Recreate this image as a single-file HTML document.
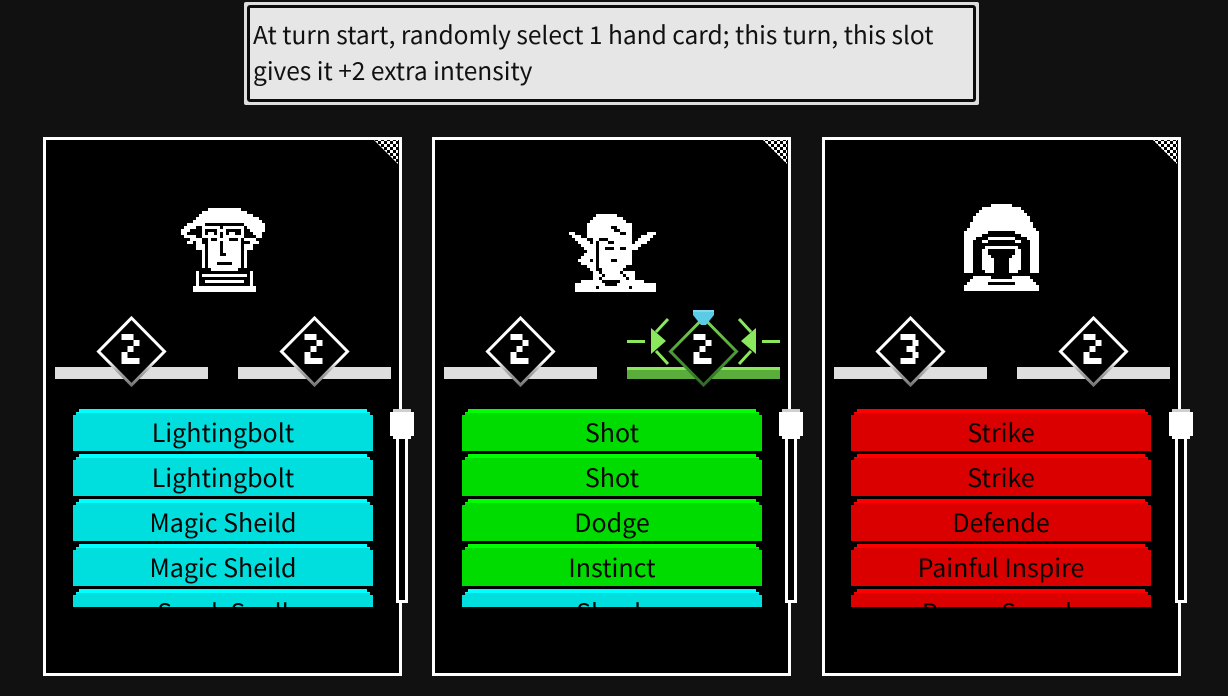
<!DOCTYPE html>
<html>
<head>
<meta charset="utf-8">
<style>
  html,body{margin:0;padding:0;}
  body{width:1228px;height:696px;background:#111111;position:relative;overflow:hidden;
       font-family:"Noto Sans CJK JP","Liberation Sans",sans-serif;}
  .tip{position:absolute;left:244px;top:2px;width:735px;height:103px;box-sizing:border-box;
       background:#dedede;border-radius:2px;}
  .tip .in{position:absolute;left:3px;top:3px;right:3px;bottom:3px;border:3px solid #0c0c0c;
       background:#e6e6e6;border-radius:3px;}
  .tiptext{position:absolute;left:253px;top:17px;width:720px;font-size:24.5px;line-height:36px;color:#111;
       white-space:nowrap;}
  .card{position:absolute;top:137px;width:359px;height:539px;box-sizing:border-box;border:3px solid #fff;background:#000;}
  .list{position:absolute;top:409px;width:300px;height:198px;overflow:hidden;}
  .btn{position:absolute;left:0;width:300px;height:42px;overflow:hidden;
       clip-path:polygon(6px 0,294px 0,294px 3px,297px 3px,297px 6px,300px 6px,300px 42px,0 42px,0 6px,3px 6px,3px 3px,6px 3px);
       text-align:center;font-size:25px;line-height:46px;color:#050505;white-space:nowrap;}
  .c{background:linear-gradient(#00ffff 0,#00ffff 4px,#00dede 4px);}
  .g{background:linear-gradient(#00ff00 0,#00ff00 4px,#00dc00 4px);}
  .r{background:linear-gradient(#ff0000 0,#ff0000 4px,#da0000 4px);}
  svg.ov{position:absolute;left:0;top:0;}
</style>
</head>
<body>

<div class="tip"><div class="in"></div></div>
<div class="tiptext">At turn start, randomly select 1 hand card; this turn, this slot<br>gives it +2 extra intensity</div>

<div class="card" style="left:43px"></div>
<div class="card" style="left:432px"></div>
<div class="card" style="left:822px"></div>

<svg class="ov" width="1228" height="696" viewBox="0 0 1228 696" xmlns="http://www.w3.org/2000/svg">
  <defs>
    <pattern id="chk" width="6" height="6" patternUnits="userSpaceOnUse">
      <rect x="0" y="0" width="3" height="3" fill="#fff"/>
      <rect x="3" y="3" width="3" height="3" fill="#fff"/>
    </pattern>
    <linearGradient id="wd" gradientUnits="userSpaceOnUse" x1="0" y1="316" x2="0" y2="387">
      <stop offset="0" stop-color="#ffffff"/>
      <stop offset="0.64" stop-color="#ffffff"/>
      <stop offset="0.76" stop-color="#b0b0b0"/>
      <stop offset="1" stop-color="#707070"/>
    </linearGradient>
    <linearGradient id="gd" gradientUnits="userSpaceOnUse" x1="0" y1="316" x2="0" y2="387">
      <stop offset="0" stop-color="#86e45a"/>
      <stop offset="0.5" stop-color="#4f9e38"/>
      <stop offset="1" stop-color="#2c6a22"/>
    </linearGradient>
  </defs>

  <polygon points="374,140 398,140 398,164" fill="url(#chk)"/>
  <polygon points="763,140 787,140 787,164" fill="url(#chk)"/>
  <polygon points="1153,140 1177,140 1177,164" fill="url(#chk)"/>

  <g transform="translate(178 208) scale(3)" shape-rendering="crispEdges">
    <g fill="#fff">
      <rect x="10" y="0" width="11" height="1"/>
      <rect x="8" y="1" width="15" height="1"/>
      <rect x="7" y="2" width="18" height="1"/>
      <rect x="6" y="3" width="21" height="1"/>
      <rect x="5" y="4" width="23" height="1"/>
      <rect x="3" y="5" width="6" height="1"/>
      <rect x="2" y="6" width="4" height="1"/>
      <rect x="1" y="7" width="3" height="1"/>
      <rect x="1" y="8" width="2" height="1"/>
      <rect x="22" y="5" width="7" height="1"/>
      <rect x="23" y="6" width="6" height="1"/>
      <rect x="24" y="7" width="5" height="1"/>
      <rect x="25" y="8" width="3" height="1"/>
      <rect x="26" y="9" width="2" height="1"/>
      <rect x="8" y="6" width="6" height="1"/>
      <rect x="8" y="9" width="6" height="1"/>
      <rect x="8" y="7" width="1" height="2"/>
      <rect x="13" y="7" width="1" height="2"/>
      <rect x="15" y="6" width="7" height="1"/>
      <rect x="15" y="9" width="7" height="1"/>
      <rect x="15" y="7" width="1" height="2"/>
      <rect x="21" y="7" width="1" height="2"/>
      <rect x="14" y="7" width="1" height="1"/>
      <rect x="10" y="8" width="2" height="1"/>
      <rect x="17" y="8" width="2" height="1"/>
      <rect x="2" y="9" width="4" height="1"/>
      <rect x="4" y="10" width="4" height="1"/>
      <rect x="3" y="11" width="2" height="1"/>
      <rect x="6" y="11" width="2" height="3"/>
      <rect x="22" y="10" width="4" height="1"/>
      <rect x="24" y="11" width="3" height="1"/>
      <rect x="23" y="12" width="2" height="2"/>
      <rect x="10" y="10" width="11" height="9"/>
      <rect x="8" y="12" width="1" height="8"/>
      <rect x="22" y="12" width="1" height="8"/>
      <rect x="10" y="19" width="11" height="1"/>
      <rect x="11" y="20" width="9" height="1"/>
      <rect x="8" y="22" width="15" height="1"/>
      <rect x="6" y="21" width="1" height="5"/>
      <rect x="24" y="21" width="1" height="5"/>
      <rect x="9" y="24" width="13" height="1"/>
      <rect x="5" y="26" width="21" height="2"/>
    </g>
    <g fill="#000">
      <rect x="14" y="11" width="1" height="5"/>
      <rect x="15" y="15" width="1" height="1"/>
      <rect x="13" y="18" width="5" height="1"/>
      <rect x="11" y="10" width="2" height="1"/>
      <rect x="17" y="10" width="3" height="1"/>
    </g>
  </g>

  <g transform="translate(569 211) scale(3)" shape-rendering="crispEdges">
    <g fill="#fff">
      <rect x="9" y="1" width="7" height="1"/>
      <rect x="8" y="2" width="10" height="1"/>
      <rect x="7" y="3" width="12" height="1"/>
      <rect x="6" y="4" width="15" height="5"/>
      <rect x="0" y="7" width="2" height="1"/>
      <rect x="1" y="8" width="3" height="1"/>
      <rect x="2" y="9" width="4" height="1"/>
      <rect x="3" y="10" width="4" height="1"/>
      <rect x="4" y="11" width="4" height="1"/>
      <rect x="5" y="12" width="3" height="1"/>
      <rect x="6" y="13" width="2" height="1"/>
      <rect x="26" y="7" width="3" height="1"/>
      <rect x="24" y="8" width="4" height="1"/>
      <rect x="23" y="9" width="4" height="1"/>
      <rect x="22" y="10" width="4" height="1"/>
      <rect x="21" y="11" width="3" height="1"/>
      <rect x="20" y="12" width="3" height="1"/>
      <rect x="8" y="9" width="13" height="9"/>
      <rect x="10" y="18" width="9" height="1"/>
      <rect x="11" y="19" width="7" height="1"/>
      <rect x="5" y="14" width="3" height="1"/>
      <rect x="4" y="15" width="4" height="1"/>
      <rect x="3" y="16" width="4" height="1"/>
      <rect x="4" y="17" width="4" height="1"/>
      <rect x="6" y="18" width="3" height="1"/>
      <rect x="7" y="19" width="2" height="1"/>
      <rect x="8" y="20" width="14" height="3"/>
      <rect x="4" y="23" width="7" height="1"/>
      <rect x="17" y="23" width="8" height="1"/>
      <rect x="2" y="24" width="27" height="3"/>
    </g>
    <g fill="#000">
      <rect x="14" y="5" width="2" height="1"/>
      <rect x="15" y="6" width="2" height="1"/>
      <rect x="17" y="7" width="2" height="1"/>
      <rect x="10" y="9" width="3" height="1"/>
      <rect x="9" y="10" width="1" height="1"/>
      <rect x="13" y="10" width="2" height="1"/>
      <rect x="9" y="11" width="1" height="7"/>
      <rect x="12" y="12" width="3" height="1"/>
      <rect x="17" y="12" width="2" height="1"/>
      <rect x="14" y="16" width="2" height="1"/>
      <rect x="10" y="20" width="1" height="1"/>
      <rect x="11" y="21" width="1" height="1"/>
      <rect x="10" y="22" width="1" height="1"/>
      <rect x="17" y="20" width="1" height="1"/>
      <rect x="18" y="21" width="1" height="1"/>
      <rect x="19" y="22" width="1" height="1"/>
      <rect x="12" y="24" width="4" height="1"/>
      <rect x="9" y="25" width="1" height="1"/>
      <rect x="20" y="25" width="1" height="1"/>
    </g>
  </g>

  <g transform="translate(961 204) scale(3)" shape-rendering="crispEdges">
    <g fill="#fff">
      <rect x="10" y="0" width="7" height="1"/>
      <rect x="7" y="1" width="13" height="1"/>
      <rect x="6" y="2" width="15" height="1"/>
      <rect x="5" y="3" width="17" height="1"/>
      <rect x="4" y="4" width="19" height="2"/>
      <rect x="3" y="6" width="21" height="2"/>
      <rect x="2" y="8" width="23" height="1"/>
      <rect x="1" y="9" width="25" height="14"/>
    </g>
    <g fill="#000">
      <rect x="9" y="9" width="9" height="1"/>
      <rect x="7" y="10" width="13" height="1"/>
      <rect x="5" y="11" width="17" height="1"/>
      <rect x="4" y="12" width="19" height="12"/>
      <rect x="0" y="23" width="27" height="1"/>
    </g>
    <g fill="#fff">
      <rect x="9" y="11" width="9" height="1"/>
      <rect x="7" y="12" width="2" height="1"/>
      <rect x="18" y="12" width="2" height="1"/>
      <rect x="8" y="14" width="11" height="1"/>
      <rect x="7" y="15" width="13" height="7"/>
      <rect x="8" y="22" width="11" height="1"/>
      <rect x="4" y="24" width="6" height="1"/>
      <rect x="17" y="24" width="6" height="1"/>
      <rect x="3" y="25" width="21" height="1"/>
      <rect x="2" y="26" width="7" height="1"/>
      <rect x="18" y="26" width="7" height="1"/>
      <rect x="1" y="27" width="25" height="2"/>
    </g>
    <g fill="#000">
      <rect x="9" y="15" width="9" height="2"/>
      <rect x="10" y="17" width="7" height="1"/>
      <rect x="11" y="18" width="5" height="5"/>
    </g>
  </g>

  <g fill="#dedede">
    <rect x="55" y="367" width="153" height="12"/>
    <rect x="238" y="367" width="153" height="12"/>
    <rect x="444" y="367" width="153" height="12"/>
    <rect x="834" y="367" width="153" height="12"/>
    <rect x="1017" y="367" width="153" height="12"/>
  </g>
  <rect x="627" y="367" width="153" height="12" fill="#5aad3a"/>
  <rect x="627" y="367" width="153" height="3" fill="#8be85c"/>

  <g stroke-width="3" fill="#000">
    <polygon points="131.5,318 164.5,351.5 131.5,385 98.5,351.5" stroke="url(#wd)"/>
    <polygon points="314.5,318 347.5,351.5 314.5,385 281.5,351.5" stroke="url(#wd)"/>
    <polygon points="520.5,318 553.5,351.5 520.5,385 487.5,351.5" stroke="url(#wd)"/>
    <polygon points="703.5,318 736.5,351.5 703.5,385 670.5,351.5" stroke="url(#gd)"/>
    <polygon points="910.5,318 943.5,351.5 910.5,385 877.5,351.5" stroke="url(#wd)"/>
    <polygon points="1093.5,318 1126.5,351.5 1093.5,385 1060.5,351.5" stroke="url(#wd)"/>
  </g>

  <g fill="#fff" shape-rendering="crispEdges">
    <g transform="translate(130.5 0)">
      <rect x="-9" y="334" width="12" height="6"/><rect x="3" y="340" width="6" height="6"/>
      <rect x="-3" y="346" width="6" height="6"/><rect x="-9" y="352" width="6" height="6"/>
      <rect x="-9" y="358" width="18" height="6"/>
    </g>
    <g transform="translate(313.5 0)">
      <rect x="-9" y="334" width="12" height="6"/><rect x="3" y="340" width="6" height="6"/>
      <rect x="-3" y="346" width="6" height="6"/><rect x="-9" y="352" width="6" height="6"/>
      <rect x="-9" y="358" width="18" height="6"/>
    </g>
    <g transform="translate(519.5 0)">
      <rect x="-9" y="334" width="12" height="6"/><rect x="3" y="340" width="6" height="6"/>
      <rect x="-3" y="346" width="6" height="6"/><rect x="-9" y="352" width="6" height="6"/>
      <rect x="-9" y="358" width="18" height="6"/>
    </g>
    <g transform="translate(702.5 0)">
      <rect x="-9" y="334" width="12" height="6"/><rect x="3" y="340" width="6" height="6"/>
      <rect x="-3" y="346" width="6" height="6"/><rect x="-9" y="352" width="6" height="6"/>
      <rect x="-9" y="358" width="18" height="6"/>
    </g>
    <g transform="translate(1092.5 0)">
      <rect x="-9" y="334" width="12" height="6"/><rect x="3" y="340" width="6" height="6"/>
      <rect x="-3" y="346" width="6" height="6"/><rect x="-9" y="352" width="6" height="6"/>
      <rect x="-9" y="358" width="18" height="6"/>
    </g>
    <g transform="translate(909.5 0)">
      <rect x="-9" y="334" width="15" height="6"/><rect x="3" y="340" width="6" height="6"/>
      <rect x="-3" y="346" width="9" height="6"/><rect x="3" y="352" width="6" height="6"/>
      <rect x="-9" y="358" width="15" height="6"/>
    </g>
  </g>

  <polygon points="693,310 714,310 714,315 706,325 701,325 693,315" fill="#5ccbe6"/>
  <rect x="693" y="310" width="21" height="2" fill="#7fd9ee"/>
  <g fill="#8be85c">
    <rect x="627" y="340" width="18" height="3"/>
    <polygon points="651,328 666,341 651,354"/>
    <rect x="762" y="340" width="18" height="3"/>
    <polygon points="756,328 741,341 756,354"/>
  </g>
  <g stroke="#8be85c" stroke-width="3" fill="none">
    <polyline points="668,319 656,332"/>
    <polyline points="656,351 668,364"/>
    <polyline points="739,319 751,332"/>
    <polyline points="751,351 739,364"/>
  </g>

  <g shape-rendering="crispEdges">
    <rect x="396" y="439" width="12" height="164" fill="#fff"/>
    <rect x="399" y="439" width="6" height="161" fill="#000"/>
    <rect x="393" y="409" width="18" height="30" fill="#fff"/>
    <rect x="390" y="412" width="24" height="24" fill="#fff"/>
    <rect x="393" y="409" width="18" height="3" fill="#cfcfcf"/>

    <rect x="785" y="439" width="12" height="164" fill="#fff"/>
    <rect x="788" y="439" width="6" height="161" fill="#000"/>
    <rect x="782" y="409" width="18" height="30" fill="#fff"/>
    <rect x="779" y="412" width="24" height="24" fill="#fff"/>
    <rect x="782" y="409" width="18" height="3" fill="#cfcfcf"/>

    <rect x="1175" y="439" width="12" height="164" fill="#fff"/>
    <rect x="1178" y="439" width="6" height="161" fill="#000"/>
    <rect x="1172" y="409" width="18" height="30" fill="#fff"/>
    <rect x="1169" y="412" width="24" height="24" fill="#fff"/>
    <rect x="1172" y="409" width="18" height="3" fill="#cfcfcf"/>
  </g>
</svg>

<div class="list" style="left:73px">
  <div class="btn c" style="top:0">Lightingbolt</div>
  <div class="btn c" style="top:45px">Lightingbolt</div>
  <div class="btn c" style="top:90px">Magic Sheild</div>
  <div class="btn c" style="top:135px">Magic Sheild</div>
  <div class="btn c" style="top:180px">Spark Spell</div>
</div>
<div class="list" style="left:462px">
  <div class="btn g" style="top:0">Shot</div>
  <div class="btn g" style="top:45px">Shot</div>
  <div class="btn g" style="top:90px">Dodge</div>
  <div class="btn g" style="top:135px">Instinct</div>
  <div class="btn c" style="top:180px">Shock</div>
</div>
<div class="list" style="left:851px">
  <div class="btn r" style="top:0">Strike</div>
  <div class="btn r" style="top:45px">Strike</div>
  <div class="btn r" style="top:90px">Defende</div>
  <div class="btn r" style="top:135px">Painful Inspire</div>
  <div class="btn r" style="top:180px">Power Smash</div>
</div>

</body>
</html>
